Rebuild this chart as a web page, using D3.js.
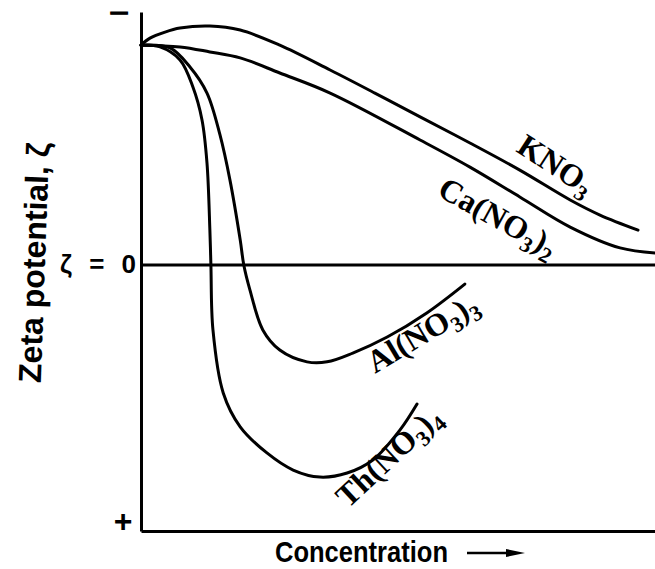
<!DOCTYPE html>
<html>
<head>
<meta charset="utf-8">
<script src="https://cdn.jsdelivr.net/npm/d3@7"></script>
<style>
  html, body { margin: 0; padding: 0; background: #fff; }
  svg { display: block; }
</style>
</head>
<body>
<svg id="chart" width="655" height="569"></svg>
<script>
// Zeta potential against electrolyte concentration (arbitrary units).
// Negative potential is drawn upwards, positive downwards.
const seriesNames = ["KNO3", "Ca(NO3)2", "Al(NO3)3", "Th(NO3)4"];

const kno3Conc = [0, 1.75, 4.67, 7.59, 13.4, 19.3, 27.0, 36.8, 45.5, 54.3, 64.0, 73.7, 83.5, 89.3, 96.7];
const kno3Zeta = [-87.6, -90.4, -92.8, -94.4, -95.2, -93.6, -87.6, -77.7, -68.5, -59.0, -48.6, -37.8, -25.9, -19.9, -13.9];

const caConc = [0, 7.59, 13.4, 19.3, 27.0, 36.8, 54.3, 64.0, 73.7, 83.5, 93.2, 100];
const caZeta = [-87.6, -86.9, -84.9, -82.5, -76.5, -68.5, -49.8, -39.0, -27.1, -15.1, -6.8, -4.8];

const alConc = [0, 5.64, 9.53, 12.84, 15.37, 17.3, 19.3, 20.0, 21.2, 23.7, 27.0, 32.3, 36.2, 41.2, 47.9, 55.6, 63.0];
const alZeta = [-87.6, -86.5, -78.9, -68.5, -51.8, -33.9, -10.0, 0, 10.0, 25.9, 33.9, 38.6, 38.6, 35.1, 28.7, 19.1, 7.6];

const thConc = [0, 3.70, 7.59, 10.1, 11.87, 12.84, 13.4, 13.6, 14.0, 16.0, 19.3, 24.5, 29.6, 34.8, 40.1, 45.1, 50.4, 53.7];
const thZeta = [-87.6, -86.9, -81.7, -70.9, -57.8, -40.6, -13.9, 0, 25.9, 51.0, 64.5, 74.9, 81.7, 84.5, 82.9, 77.7, 65.7, 55.4];

const yTickValues = [-100, 0, 102];
const yTickLabels = ["\u2212", "\u03B6 = 0", "+"];

const xTitle = "Concentration";
const yTitle = "Zeta potential, \u03B6";

const svg = d3.select("#chart");

const x = d3.scaleLinear().domain([0, 100]).range([141, 655]);
const y = d3.scaleLinear().domain([-100.8, 106]).range([12, 531]);

const ink = "#000";
const sans = "'Liberation Sans', Arial, Helvetica, sans-serif";
const serif = "'Liberation Serif', 'Times New Roman', Times, serif";

// Axes: bare lines, no tick marks
const yAxis = svg.append("g")
  .attr("transform", `translate(${x(0)},0)`)
  .call(d3.axisLeft(y).tickValues([]).tickSizeOuter(0));
const xAxis = svg.append("g")
  .attr("transform", `translate(0,${y.range()[1]})`)
  .call(d3.axisBottom(x).tickValues([]).tickSizeOuter(0));
[yAxis, xAxis].forEach(g => g.select(".domain")
  .attr("stroke", ink).attr("stroke-width", 3));

// ζ = 0 reference line
svg.append("line")
  .attr("x1", x(0)).attr("x2", x(100))
  .attr("y1", y(0)).attr("y2", y(0))
  .attr("stroke", ink).attr("stroke-width", 3);

// Sign / zero labels on the potential axis
const tickStyle = [
  { size: 20, dx: -22, dy: 6,  anchor: "middle", fit: 19, stroke: 1 },
  { size: 26, dx: -5,  dy: 8,  anchor: "end",    fit: 76, stroke: 0 },
  { size: 32, dx: -18, dy: 11, anchor: "middle", fit: null, stroke: 0 }
];
yTickValues.forEach((v, i) => {
  const s = tickStyle[i];
  const t = svg.append("text")
    .attr("x", x(0) + s.dx)
    .attr("y", y(v) + s.dy)
    .attr("text-anchor", s.anchor)
    .attr("font-family", sans)
    .attr("font-weight", "bold")
    .attr("font-size", s.size)
    .attr("fill", ink)
    .text(yTickLabels[i]);
  if (s.fit) t.attr("textLength", s.fit).attr("lengthAdjust", i === 0 ? "spacingAndGlyphs" : "spacing");
  if (s.stroke) t.attr("stroke", ink).attr("stroke-width", s.stroke);
});

// Axis titles
svg.append("text")
  .attr("transform", "translate(45,263) rotate(-88)")
  .attr("text-anchor", "middle")
  .attr("font-family", sans)
  .attr("font-weight", "bold")
  .attr("font-size", 32)
  .attr("fill", ink)
  .text(yTitle);

svg.append("text")
  .attr("x", 275).attr("y", 562)
  .attr("font-family", sans)
  .attr("font-weight", "bold")
  .attr("font-size", 30)
  .attr("textLength", 173)
  .attr("lengthAdjust", "spacingAndGlyphs")
  .attr("fill", ink)
  .text(xTitle);

// direction arrow after the concentration title
svg.append("line")
  .attr("x1", 467).attr("x2", 512).attr("y1", 553).attr("y2", 553)
  .attr("stroke", ink).attr("stroke-width", 2.5);
svg.append("path")
  .attr("d", "M506,549 L525,553 L506,557 Z")
  .attr("fill", ink);

// Curves
const series = [
  { conc: kno3Conc, zeta: kno3Zeta },
  { conc: caConc, zeta: caZeta },
  { conc: alConc, zeta: alZeta },
  { conc: thConc, zeta: thZeta }
];

const line = d3.line()
  .x(d => x(d[0]))
  .y(d => y(d[1]))
  .curve(d3.curveCatmullRom.alpha(0.5));

series.forEach(s => {
  svg.append("path")
    .datum(d3.zip(s.conc, s.zeta))
    .attr("d", line)
    .attr("fill", "none")
    .attr("stroke", ink)
    .attr("stroke-width", 3)
    .attr("stroke-linecap", "round")
    .attr("stroke-linejoin", "round");
});

// Curve labels: chemical formulae with subscript digits
const labelPlace = [
  { px: 515, py: 151, rot: 33 },
  { px: 436, py: 195, rot: 29 },
  { px: 375, py: 374, rot: -31 },
  { px: 348, py: 509, rot: -43 }
];

function formulaRuns(name) {
  return name.match(/\d+|[^\d]+/g).map(r => ({ text: r, sub: /^\d+$/.test(r) }));
}

seriesNames.forEach((name, i) => {
  const p = labelPlace[i];
  const t = svg.append("text")
    .attr("transform", `translate(${p.px},${p.py}) rotate(${p.rot})`)
    .attr("font-family", serif)
    .attr("font-weight", "bold")
    .attr("font-size", 32)
    .attr("fill", ink);
  let down = false;
  formulaRuns(name).forEach(r => {
    const ts = t.append("tspan").text(r.text);
    if (r.sub && !down) { ts.attr("dy", 7).attr("font-size", 22); down = true; }
    else if (!r.sub && down) { ts.attr("dy", -7); down = false; }
  });
});
</script>
</body>
</html>
